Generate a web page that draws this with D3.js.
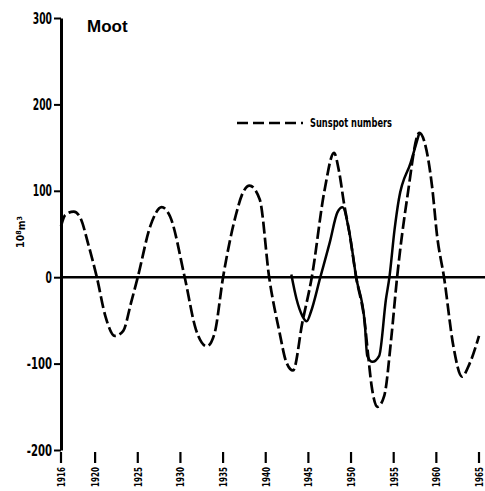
<!DOCTYPE html>
<html>
<head>
<meta charset="utf-8">
<script src="https://cdn.jsdelivr.net/npm/d3@7"></script>
<style>
  html, body { margin: 0; padding: 0; background: #fff; }
  svg { display: block; }
  text { font-family: "DejaVu Sans Condensed", "Liberation Sans", sans-serif; font-weight: bold; fill: #000; }
</style>
</head>
<body>
<svg id="chart" width="485" height="491"></svg>
<script>
// Sunspot numbers (scaled to the same units) – dashed curve
const sunspotYears = [1916.0, 1916.5, 1917.5, 1918.3, 1919.2, 1920.2, 1921.2, 1922.3, 1923.3, 1924.2,
  1925.0, 1926.5, 1927.8, 1928.8, 1930.5, 1931.8, 1933.1, 1934.0, 1935.0, 1936.5,
  1937.2, 1938.1, 1939.3, 1940.4, 1941.6, 1942.4, 1943.2, 1944.3, 1945.4, 1946.9,
  1948.0, 1948.6, 1949.2, 1949.8, 1950.6, 1951.6, 1952.0, 1952.4, 1953.1, 1953.9, 1954.7, 1955.4,
  1956.6, 1958.0, 1959.5, 1960.1, 1960.9, 1962.0, 1963.0, 1963.9, 1965.0];
const sunspotValues = [59, 72, 76, 68, 38, 0, -45, -68, -62, -30,
  0, 60, 81, 70, 0, -60, -80, -65, 0, 72,
  95, 106, 90, 0, -63, -98, -108, -52, 0, 101,
  144, 122, 84, 52, 0, -52, -90, -125, -150, -137, -72, 0,
  93, 167, 105, 47, 0, -80, -115, -100, -68];

// Moot volume anomaly (10^8 m^3) – solid curve
const mootYears = [1943.0, 1943.6, 1944.3, 1944.8, 1945.3, 1946.4, 1947.5, 1948.4, 1949.0, 1949.8,
  1950.6, 1951.6, 1951.9, 1952.5, 1953.3, 1954.1, 1954.5, 1955.1, 1955.6, 1957.0, 1958.0];
const mootValues = [3, -25, -45, -51, -40, 0, 40, 75, 81, 52,
  0, -52, -91, -98, -91, -25, 0, 55, 90, 133, 167];

const yTicks = [-200, -100, 0, 100, 200, 300];
const xTicks = [1916, 1920, 1925, 1930, 1935, 1940, 1945, 1950, 1955, 1960, 1965];

const svg = d3.select("#chart");

const x = d3.scaleLinear().domain([1916, 1965]).range([61, 479]);
const y = d3.scaleLinear().domain([-200, 300]).range([450, 18]);

// width of a condensed numeric label
const labelWidth = (s, digit, dash) =>
  s.split("").reduce((w, c) => w + (c === "-" ? dash : digit), 0);

// Y axis
const yAxis = svg.append("g")
  .attr("transform", `translate(${x(1916)},0)`)
  .call(d3.axisLeft(y).tickValues(yTicks).tickSize(7).tickSizeOuter(0).tickPadding(2)
    .tickFormat(d => String(d)));
yAxis.select(".domain").attr("stroke", "#000").attr("stroke-width", 3);
yAxis.selectAll(".tick line").attr("stroke", "#000").attr("stroke-width", 2);
yAxis.selectAll(".tick text")
  .style("font-size", "15px")
  .attr("dy", "0.34em")
  .attr("textLength", d => labelWidth(String(d), 6.4, 6))
  .attr("lengthAdjust", "spacingAndGlyphs");

// X axis: tick marks and rotated year labels, no baseline
const xAxis = svg.append("g");
xAxis.selectAll("line.xt")
  .data(xTicks)
  .join("line")
  .attr("class", "xt")
  .attr("x1", d => x(d)).attr("x2", d => x(d))
  .attr("y1", 452).attr("y2", 463)
  .attr("stroke", "#000").attr("stroke-width", 2.2);
xAxis.selectAll("text.xl")
  .data(xTicks)
  .join("text")
  .attr("class", "xl")
  .attr("transform", d => `translate(${Math.min(x(d), 479)},467) rotate(-90)`)
  .attr("text-anchor", "end")
  .attr("dy", "0.36em")
  .style("font-size", "11px")
  .attr("textLength", 20)
  .attr("lengthAdjust", "spacingAndGlyphs")
  .text(d => d);

// Zero line
svg.append("line")
  .attr("x1", x(1916)).attr("x2", 485)
  .attr("y1", y(0)).attr("y2", y(0))
  .attr("stroke", "#000").attr("stroke-width", 2.5);

// Curves
const line = d3.line().x(d => x(d[0])).y(d => y(d[1])).curve(d3.curveMonotoneX);

svg.append("path")
  .datum(d3.zip(sunspotYears, sunspotValues))
  .attr("d", line)
  .attr("fill", "none")
  .attr("stroke", "#000")
  .attr("stroke-width", 2.7)
  .attr("stroke-dasharray", "12,4");

svg.append("path")
  .datum(d3.zip(mootYears, mootValues))
  .attr("d", line)
  .attr("fill", "none")
  .attr("stroke", "#000")
  .attr("stroke-width", 2.5)
  .attr("stroke-linejoin", "round");

// Title
svg.append("text")
  .attr("x", 87).attr("y", 32)
  .style("font-family", "'Liberation Sans', Arial, sans-serif")
  .style("font-size", "17px")
  .text("Moot");

// Legend
svg.append("line")
  .attr("x1", 237).attr("x2", 303)
  .attr("y1", 123).attr("y2", 123)
  .attr("stroke", "#000").attr("stroke-width", 2.4)
  .attr("stroke-dasharray", "11,5");
svg.append("text")
  .attr("x", 310).attr("y", 127)
  .style("font-size", "12px")
  .attr("textLength", 82)
  .attr("lengthAdjust", "spacingAndGlyphs")
  .text("Sunspot numbers");

// Y axis title
const yTitle = svg.append("text")
  .attr("transform", "translate(20,232) rotate(-90)")
  .attr("text-anchor", "middle")
  .attr("dy", "0.35em")
  .style("font-size", "10.5px");
yTitle.append("tspan").text("10");
yTitle.append("tspan").attr("dy", "-0.35em").style("font-size", "7px").text("8");
yTitle.append("tspan").attr("dy", "0.35em").text("m");
yTitle.append("tspan").attr("dy", "-0.35em").style("font-size", "7px").text("3");
</script>
</body>
</html>
